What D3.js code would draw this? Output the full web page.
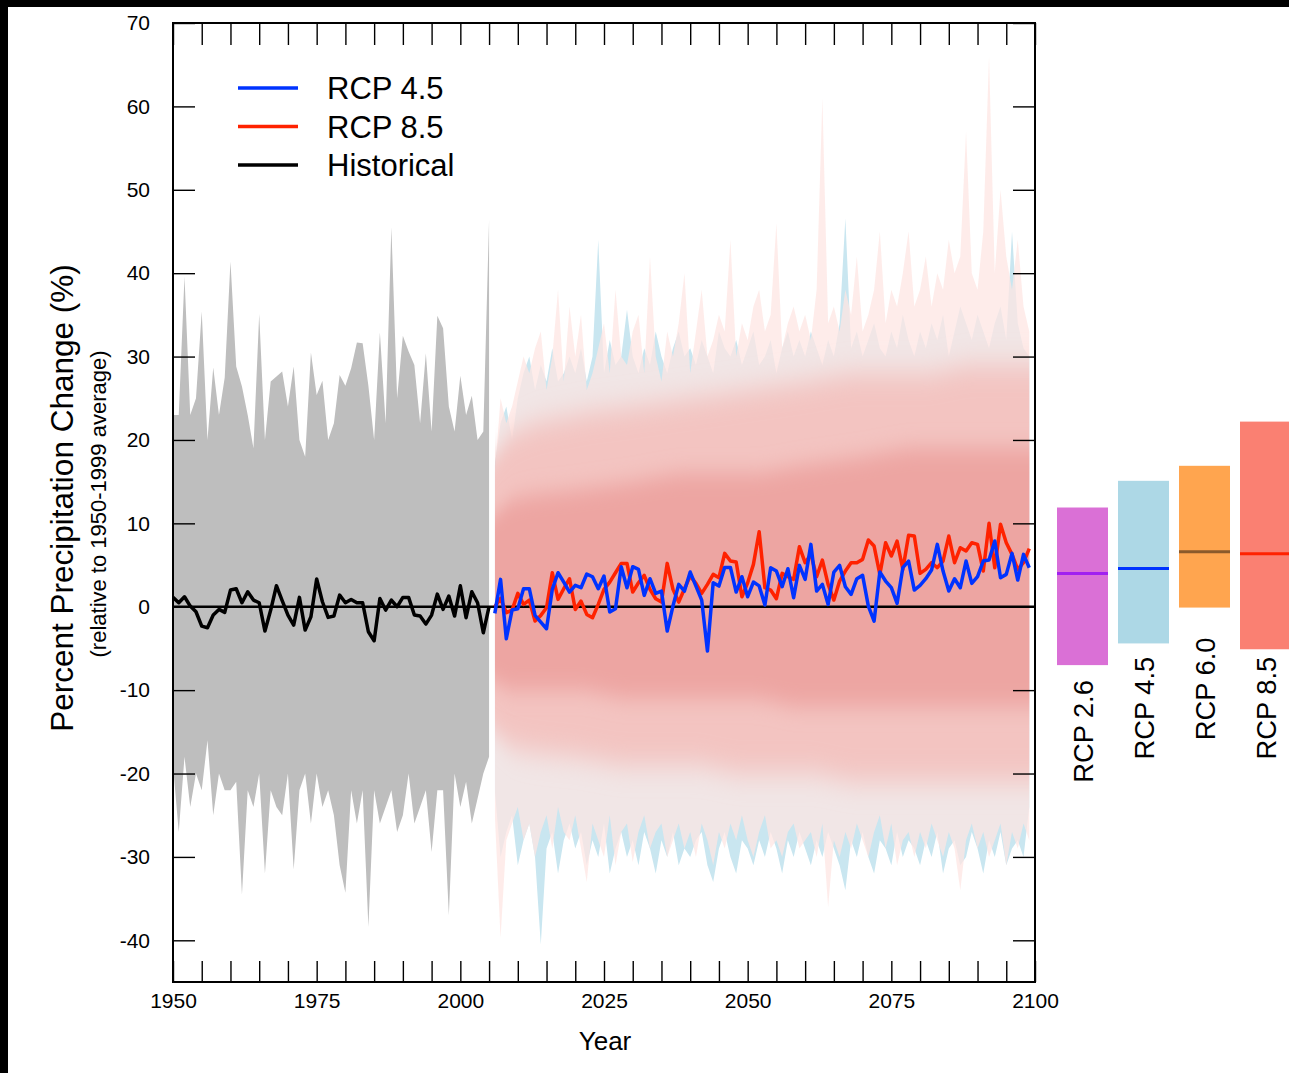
<!DOCTYPE html>
<html><head><meta charset="utf-8">
<script src="https://cdn.jsdelivr.net/npm/d3@7"></script>
<style>
html,body{margin:0;padding:0;background:#fff;}
svg{display:block;font-family:"Liberation Sans",Arial,Helvetica,sans-serif;}
</style></head><body>
<svg id="c" width="1289" height="1073"></svg>
<script>
// ---------------- DATA ----------------
const histStart = 1950;            // historical runs 1950-2005
const projStart = 2006;            // projections 2006-2099

// Historical multi-model mean (black)
const histMean = [1.12,0.48,1.2,0.08,-0.6,-2.32,-2.52,-1.0,-0.32,-0.68,
  2.0,2.16,0.48,1.8,0.8,0.48,-2.92,-0.4,2.52,0.72,
  -1.0,-2.2,1.12,-2.8,-1.2,3.32,0.6,-1.28,-1.12,1.4,
  0.48,0.88,0.48,0.48,-3.0,-4.08,1.0,-0.4,0.8,0.0,
  1.12,1.12,-1.0,-1.12,-2.08,-1.0,1.52,-0.32,1.28,-1.12,
  2.52,-1.32,1.8,0.48,-3.12,0.0];
// Historical ensemble envelope (grey)
const histHi = [23,23,39.6,23,25,35.4,20,28.7,23,27.5,
  41.4,28.8,26.4,23,19,35.1,20,27,27.6,28.2,
  24,28.8,20,18,30.5,25.4,27.1,20,22,27.8,
  26.5,28.6,31.7,31.6,26.5,20,32.9,22,45.5,25,
  32.5,30.6,29,22,30.4,21,34.9,33.4,24,21,
  27.7,23,25.3,20,21,46.4];
const histLo = [-19,-27,-18,-24,-20,-22,-16,-25,-20,-22,
  -22,-21,-34.5,-22,-24,-20,-32,-22,-24,-25,
  -20,-31.5,-22,-20,-26,-20,-24,-22,-25,-31,
  -34.3,-22,-26,-22,-38.4,-22,-26,-24,-22,-27,
  -25,-20,-26,-24,-22,-29.4,-22,-22,-37,-20,
  -24,-21,-26,-23,-20,-18];

// RCP 4.5 multi-model mean (blue) 2006-2099
const rcp45Mean = [-0.8,3.28,-3.84,-0.4,-0.24,2.16,2.16,-1.04,-1.84,-2.64,
  2.08,4.08,2.96,1.76,2.56,2.28,3.92,3.6,2.16,3.68,
  -0.64,-0.24,4.8,2.28,4.8,4.48,1.36,3.36,1.6,1.88,
  -2.92,0.08,2.68,1.88,4.16,2.48,0.8,-5.32,2.88,2.48,
  4.72,4.72,1.76,3.6,1.2,2.96,2.5,0.2,4.68,4.28,
  2.4,4.56,1.08,4.96,3.28,7.48,1.88,2.68,0.28,4.16,
  4.96,2.4,1.48,3.36,3.76,0.08,-1.72,4.16,3.08,2.28,
  0.4,4.68,5.48,2.0,2.56,3.36,4.4,7.48,4.28,1.88,
  3.36,2.28,5.48,2.8,3.6,5.48,5.6,7.88,3.48,3.88,
  6.4,3.2,6.28,4.68];
// RCP 8.5 multi-model mean (red) 2006-2099
const rcp85Mean = [0.0,1.0,-0.72,-0.4,1.6,0.28,0.8,-1.72,-1.04,-0.12,
  4.08,0.88,2.16,3.36,-0.32,0.68,-0.92,-1.32,0.28,2.08,
  2.96,4.08,5.2,5.2,1.76,2.88,3.76,2.08,0.96,0.56,
  5.2,2.08,0.56,2.16,3.68,2.8,1.6,2.68,3.88,3.48,
  6.4,5.48,5.36,1.2,2.88,5.08,9.0,2.28,2.0,0.96,
  4.0,3.6,3.28,7.2,5.28,6.28,3.6,5.6,2.68,0.8,
  3.08,4.28,5.28,5.28,5.68,8.0,7.28,3.88,7.68,6.08,
  7.88,4.48,8.56,8.48,4.0,4.48,5.28,4.68,5.48,8.48,
  5.28,7.08,6.68,7.68,7.48,4.28,10.0,4.68,9.88,7.68,
  6.28,4.48,5.28,6.96];

// RCP 8.5 ensemble envelope (pink)
const rcp85Hi = [16,25,22,24, 27,30,28,31,33,26,30,38,27,36, 30,35,26,28,31,34,28,38,30,29,
  33,35,28,42,30,27,33,30,34,40, 28,33,38,30,32,35,33,44,30,34, 32,36,38,33,35,46,31,34,36,33,
  35,32,38,61,34,36,33,38,35,42, 33,35,38,45,34,38,36,40,45,36, 38,42,36,40,38,44,40,42,57,40,
  38,45,66,40,50,42,38,44,36,33];
const rcp85Lo = [-25,-39.7,-28,-26, -24,-28,-26,-30,-27,-25,-29,-24,-27,-28, -25,-29,-33,-26,-28,-30,-25,-31,-27,-26,
  -30.6,-27,-25,-29,-27,-26,-30,-28,-26,-29, -27,-30,-26,-28,-31,-27,-29,-26,-28,-25, -28,-30,-27,-25,-29,-28,-30,-27,-26,-29,
  -28,-27,-30,-26,-36,-28,-30,-27,-29,-26, -28,-30,-27,-25,-29,-26,-31,-28,-27,-30, -27,-29,-26,-28,-30,-27,-29,-34,-28,-26,
  -29,-27,-30,-28,-26,-31,-27,-29,-26,-28];
// RCP 4.5 ensemble envelope (light blue)
const rcp45Hi = [17,22,24,20, 25,28,30,26,29,27,31,27,28,30, 28,31,27,30,44,28,32,29,30,35.6,
  30,28,31,29,33,30,28,31,33,30, 31,29,32,30,28,33,31,30,32,29, 31,33,29,30,32,28,31,33,30,32,
  30,33,31,29,32,30,34,46.6,31,33, 30,32,34,31,30,33,31,35,32,30, 33,31,34,32,35,30,33,36,34,32,
  35,33,31,34,36,32,45,34,31,30];
const rcp45Lo = [-22,-30,-27,-25, -31,-28,-26,-30,-40.5,-29,-27,-32,-28,-26, -29,-27,-31,-28,-30,-26,-32,-29,-27,-30,
  -28,-31,-27,-29,-32,-28,-30,-27,-31,-29, -30,-28,-27,-31,-33,-29,-27,-30,-32,-28, -29,-31,-28,-30,-27,-29,-32,-28,-30,-27,
  -29,-31,-28,-30,-27,-29,-31,-34,-28,-30, -27,-30,-32,-28,-29,-31,-27,-30,-28,-29, -31,-28,-30,-27,-32,-29,-28,-31,-30,-27,
  -29,-32,-28,-30,-27,-31,-29,-28,-30,-24];
// Density zones of the projection ensembles (read at anchor years)
const zoneYears = [2006,2010,2020,2030,2040,2050,2060,2070,2080,2090,2099];
const midHi  = [18,21,23,24,25,26,27,28,28,29,29];
const midLo  = [-15,-17,-18,-19,-19,-20,-20,-21,-21,-21,-21];
const coreHi = [11,13,14,15,16,16,17,18,19,19,19];
const coreLo = [-9,-10,-10,-11,-11,-11,-12,-12,-12,-12,-12];

// Right-hand summary bars
const rcpNames = ["RCP 2.6","RCP 4.5","RCP 6.0","RCP 8.5"];
const rcpHigh  = [11.9, 15.1, 16.9, 22.2];
const rcpLow   = [-7.0, -4.4, -0.1, -5.1];
const rcpMed   = [4.0, 4.6, 6.6, 6.35];

const legendNames = ["RCP 4.5","RCP 8.5","Historical"];
const xLabelTicks = [1950,1975,2000,2025,2050,2075,2100];
const yTicks = [-40,-30,-20,-10,0,10,20,30,40,50,60,70];

// ---------------- STYLE / LAYOUT ----------------
const C = {blue:"#0033ff", red:"#ff2200", grey:"#bebebe"};
const barFill = ["#da70d6","#add8e6","#ffa54f","#fa8072"];
const barMed  = ["#a020f0","#0033ff","#8b5a2b","#ff2200"];
const barLabelAt = [-8.8,-6.0,-3.7,-6.0];   // data-unit position of label ends

const svg = d3.select("#c");
svg.append("rect").attr("width",1289).attr("height",1073).attr("fill","#000");
svg.append("rect").attr("x",8).attr("y",7).attr("width",1289).attr("height",1073).attr("fill","#fff");

const L=173,R=1035,T=23,B=982;
const x = d3.scaleLinear().domain([1950,2100]).range([L,R]);
const y = d3.scaleLinear().domain([-45,70]).range([B,T]);

const defs = svg.append("defs");
defs.append("clipPath").attr("id","clip").append("rect").attr("x",L).attr("y",T).attr("width",R-L).attr("height",B-T);
defs.append("clipPath").attr("id","clipP").append("rect").attr("x",x(projStart)).attr("y",T).attr("width",R-x(projStart)).attr("height",B-T);
[["blur1","0 14"],["blur2","0 11"]].forEach(([id,s])=>{
  defs.append("filter").attr("id",id).attr("x","0%").attr("y","-40%").attr("width","100%").attr("height","180%")
    .append("feGaussianBlur").attr("stdDeviation",s);
});

const plot = svg.append("g").attr("clip-path","url(#clip)");

const yrH = i => x(histStart+i), yrP = i => x(projStart+i);

// historical grey envelope
plot.append("path").datum(histHi)
  .attr("d", d3.area().x((d,i)=>yrH(i)).y0((d,i)=>y(histLo[i])).y1(d=>y(d)))
  .attr("fill",C.grey);

// projection envelopes
const proj = plot.append("g").attr("clip-path","url(#clipP)");
proj.append("path").datum(rcp45Hi)
  .attr("d", d3.area().x((d,i)=>yrP(i)).y0((d,i)=>y(rcp45Lo[i])).y1(d=>y(d)))
  .attr("fill","#c9e6f0");
proj.append("path").datum(rcp85Hi)
  .attr("d", d3.area().x((d,i)=>yrP(i)).y0((d,i)=>y(rcp85Lo[i])).y1(d=>y(d)))
  .attr("fill","#fde6e3").attr("opacity",0.75);
// density zones (soft-edged vertically)
proj.append("path").datum(midHi)
  .attr("d", d3.area().curve(d3.curveMonotoneX).x((d,i)=>x(zoneYears[i])).y0((d,i)=>y(midLo[i])).y1(d=>y(d)))
  .attr("fill","#f3c4c1").attr("filter","url(#blur1)");
proj.append("path").datum(coreHi)
  .attr("d", d3.area().curve(d3.curveMonotoneX).x((d,i)=>x(zoneYears[i])).y0((d,i)=>y(coreLo[i])).y1(d=>y(d)))
  .attr("fill","#eda5a2").attr("filter","url(#blur2)");

// zero line
plot.append("line").attr("x1",L).attr("x2",R).attr("y1",y(0)).attr("y2",y(0))
  .attr("stroke","#000").attr("stroke-width",2.5);

const lineH = d3.line().x((d,i)=>yrH(i)).y(d=>y(d));
const lineP = d3.line().x((d,i)=>yrP(i)).y(d=>y(d));
plot.append("path").datum(histMean).attr("d",lineH).attr("fill","none").attr("stroke","#000").attr("stroke-width",3.5).attr("stroke-linejoin","round");
plot.append("path").datum(rcp85Mean).attr("d",lineP).attr("fill","none").attr("stroke",C.red).attr("stroke-width",3.5).attr("stroke-linejoin","round");
plot.append("path").datum(rcp45Mean).attr("d",lineP).attr("fill","none").attr("stroke",C.blue).attr("stroke-width",3.5).attr("stroke-linejoin","round");

// axes
const tickYears = d3.range(1950,2101,5);
const axB = svg.append("g").attr("transform",`translate(0,${B})`)
  .call(d3.axisBottom(x).tickValues(tickYears).tickSize(-21).tickPadding(11)
    .tickFormat(d => xLabelTicks.includes(d) ? String(d) : ""));
const axT = svg.append("g").attr("transform",`translate(0,${T})`)
  .call(d3.axisTop(x).tickValues(tickYears).tickSize(-22).tickFormat(""));
const axL = svg.append("g").attr("transform",`translate(${L},0)`)
  .call(d3.axisLeft(y).tickValues(yTicks).tickSize(-22).tickPadding(23).tickFormat(d => String(d)));
const axR = svg.append("g").attr("transform",`translate(${R},0)`)
  .call(d3.axisRight(y).tickValues(yTicks).tickSize(-22).tickFormat(""));
[axB,axT,axL,axR].forEach(a=>{
  a.select(".domain").remove();
  a.selectAll(".tick line").attr("stroke","#000").attr("stroke-width",1.4);
  a.selectAll("text").attr("font-size",21).attr("fill","#000").attr("font-family","'Liberation Sans',Arial,sans-serif");
});
svg.append("rect").attr("x",L).attr("y",T).attr("width",R-L).attr("height",B-T)
  .attr("fill","none").attr("stroke","#000").attr("stroke-width",2);

// axis titles
svg.append("text").attr("transform","translate(73,498) rotate(-90)").attr("text-anchor","middle")
  .attr("font-size",31.5).text("Percent Precipitation Change (%)");
svg.append("text").attr("transform","translate(106,504) rotate(-90)").attr("text-anchor","middle")
  .attr("font-size",22).text("(relative to 1950-1999 average)");
svg.append("text").attr("x",605).attr("y",1050).attr("text-anchor","middle")
  .attr("font-size",26).text("Year");

// legend
const legColors = [C.blue, C.red, "#000"];
const leg = svg.append("g");
legendNames.forEach((n,i)=>{
  const yy = 88 + i*38.5;
  leg.append("line").attr("x1",238).attr("x2",298).attr("y1",yy).attr("y2",yy)
    .attr("stroke",legColors[i]).attr("stroke-width",3.5);
  leg.append("text").attr("x",327).attr("y",yy).attr("dy","0.36em").attr("font-size",31).text(n);
});

// right-hand bars
const xb = d3.scaleBand().domain(rcpNames).range([1057,1291]).paddingInner(10/61).paddingOuter(0);
const bars = svg.append("g");
rcpNames.forEach((n,i)=>{
  bars.append("rect").attr("x",xb(n)).attr("width",xb.bandwidth())
    .attr("y",y(rcpHigh[i])).attr("height",y(rcpLow[i])-y(rcpHigh[i])).attr("fill",barFill[i]);
  bars.append("line").attr("x1",xb(n)).attr("x2",xb(n)+xb.bandwidth())
    .attr("y1",y(rcpMed[i])).attr("y2",y(rcpMed[i])).attr("stroke",barMed[i]).attr("stroke-width",3);
  const cx = xb(n)+xb.bandwidth()/2;
  bars.append("text").attr("transform",`translate(${cx+10},${y(barLabelAt[i])}) rotate(-90)`)
    .attr("text-anchor","end").attr("font-size",27.3).text(n);
});
</script>
</body></html>
